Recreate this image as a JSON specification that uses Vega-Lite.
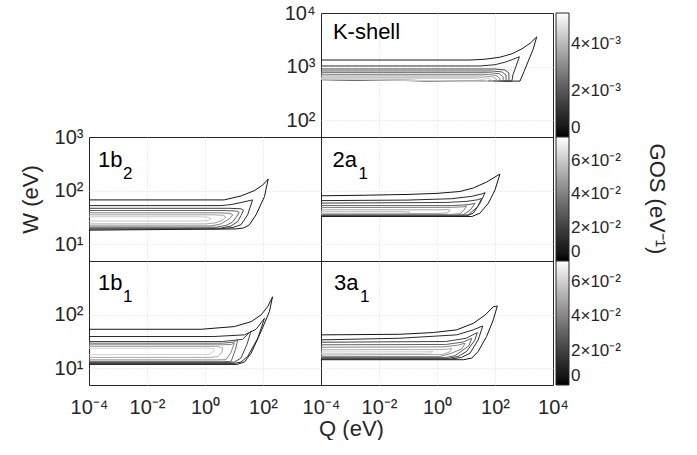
{
"$schema": "https://vega.github.io/schema/vega-lite/v6.json",
"background": "white",
"padding": {"left": 18, "top": 2, "right": 0, "bottom": 0},
"config": {
  "font": "Liberation Sans",
  "view": {"stroke": "#262626", "strokeWidth": 1},
  "axis": {"grid": true, "gridColor": "#d0d0d0", "gridDash": [1, 2], "gridWidth": 0.8, "domain": false, "ticks": false, "labelFlush": false, "labelOverlap": false, "labelFont": "Liberation Sans", "labelFontSize": 20, "labelColor": "#262626", "titleFont": "Liberation Sans", "titleFontSize": 22, "titleFontWeight": "normal", "titleColor": "#262626"},
  "axisX": {"gridOpacity": {"condition": {"test": "datum.value <= -4 || datum.value >= 4", "value": 0}, "value": 1}},
  "legend": {"orient": "right", "offset": 3, "gradientLength": 124, "gradientThickness": 13, "gradientStrokeColor": "#262626", "gradientStrokeWidth": 1, "labelFont": "Liberation Sans", "labelFontSize": 17, "labelColor": "#262626", "labelOffset": 6, "labelOverlap": false, "direction": "vertical"},
  "text": {"font": "Liberation Sans", "color": "#000000"}
},
"datasets": {
  "kshell": [
    {"curve":1,"pt":0,"logQ":-4,"logW":3.124,"GOS":0.0005},{"curve":1,"pt":1,"logQ":1.14,"logW":3.124,"GOS":0.0005},{"curve":1,"pt":2,"logQ":1.66,"logW":3.139,"GOS":0.0005},{"curve":1,"pt":3,"logQ":2.17,"logW":3.176,"GOS":0.0005},{"curve":1,"pt":4,"logQ":2.59,"logW":3.241,"GOS":0.0005},{"curve":1,"pt":5,"logQ":2.93,"logW":3.333,"GOS":0.0005},{"curve":1,"pt":6,"logQ":3.21,"logW":3.435,"GOS":0.0005},{"curve":1,"pt":7,"logQ":3.44,"logW":3.556,"GOS":0.0005},{"curve":1,"pt":8,"logQ":3.31,"logW":3.315,"GOS":0.0005},{"curve":1,"pt":9,"logQ":3.14,"logW":3.093,"GOS":0.0005},{"curve":1,"pt":10,"logQ":3.0,"logW":2.907,"GOS":0.0005},{"curve":1,"pt":11,"logQ":2.86,"logW":2.731,"GOS":0.0005},{"curve":1,"pt":12,"logQ":0.79,"logW":2.731,"GOS":0.0005},{"curve":1,"pt":13,"logQ":-4,"logW":2.769,"GOS":0.0005},
    {"curve":2,"pt":0,"logQ":-4,"logW":3.013,"GOS":0.001},{"curve":2,"pt":1,"logQ":1.48,"logW":3.013,"GOS":0.001},{"curve":2,"pt":2,"logQ":2.0,"logW":3.037,"GOS":0.001},{"curve":2,"pt":3,"logQ":2.34,"logW":3.083,"GOS":0.001},{"curve":2,"pt":4,"logQ":2.59,"logW":3.13,"GOS":0.001},{"curve":2,"pt":5,"logQ":2.84,"logW":3.185,"GOS":0.001},{"curve":2,"pt":6,"logQ":2.72,"logW":3.0,"GOS":0.001},{"curve":2,"pt":7,"logQ":2.62,"logW":2.852,"GOS":0.001},{"curve":2,"pt":8,"logQ":2.58,"logW":2.731,"GOS":0.001},{"curve":2,"pt":9,"logQ":0.79,"logW":2.731,"GOS":0.001},{"curve":2,"pt":10,"logQ":-4,"logW":2.759,"GOS":0.001},
    {"curve":3,"pt":0,"logQ":-4,"logW":2.957,"GOS":0.0015},{"curve":3,"pt":1,"logQ":2.0,"logW":2.957,"GOS":0.0015},{"curve":3,"pt":2,"logQ":2.34,"logW":2.939,"GOS":0.0015},{"curve":3,"pt":3,"logQ":2.48,"logW":2.883,"GOS":0.0015},{"curve":3,"pt":4,"logQ":2.48,"logW":2.731,"GOS":0.0015},{"curve":3,"pt":5,"logQ":0.79,"logW":2.731,"GOS":0.0015},{"curve":3,"pt":6,"logQ":-4,"logW":2.759,"GOS":0.0015},
    {"curve":4,"pt":0,"logQ":-4,"logW":2.92,"GOS":0.002},{"curve":4,"pt":1,"logQ":1.9,"logW":2.92,"GOS":0.002},{"curve":4,"pt":2,"logQ":2.24,"logW":2.902,"GOS":0.002},{"curve":4,"pt":3,"logQ":2.38,"logW":2.846,"GOS":0.002},{"curve":4,"pt":4,"logQ":2.38,"logW":2.731,"GOS":0.002},{"curve":4,"pt":5,"logQ":0.79,"logW":2.731,"GOS":0.002},{"curve":4,"pt":6,"logQ":-4,"logW":2.762,"GOS":0.002},
    {"curve":5,"pt":0,"logQ":-4,"logW":2.889,"GOS":0.0025},{"curve":5,"pt":1,"logQ":1.79,"logW":2.889,"GOS":0.0025},{"curve":5,"pt":2,"logQ":2.14,"logW":2.87,"GOS":0.0025},{"curve":5,"pt":3,"logQ":2.28,"logW":2.815,"GOS":0.0025},{"curve":5,"pt":4,"logQ":2.28,"logW":2.731,"GOS":0.0025},{"curve":5,"pt":5,"logQ":0.79,"logW":2.731,"GOS":0.0025},{"curve":5,"pt":6,"logQ":-4,"logW":2.765,"GOS":0.0025},
    {"curve":6,"pt":0,"logQ":-4,"logW":2.857,"GOS":0.003},{"curve":6,"pt":1,"logQ":1.69,"logW":2.857,"GOS":0.003},{"curve":6,"pt":2,"logQ":2.03,"logW":2.839,"GOS":0.003},{"curve":6,"pt":3,"logQ":2.17,"logW":2.783,"GOS":0.003},{"curve":6,"pt":4,"logQ":2.17,"logW":2.731,"GOS":0.003},{"curve":6,"pt":5,"logQ":0.79,"logW":2.731,"GOS":0.003},{"curve":6,"pt":6,"logQ":-4,"logW":2.767,"GOS":0.003},
    {"curve":7,"pt":0,"logQ":-4,"logW":2.828,"GOS":0.0035},{"curve":7,"pt":1,"logQ":1.59,"logW":2.828,"GOS":0.0035},{"curve":7,"pt":2,"logQ":1.93,"logW":2.809,"GOS":0.0035},{"curve":7,"pt":3,"logQ":2.07,"logW":2.754,"GOS":0.0035},{"curve":7,"pt":4,"logQ":2.07,"logW":2.731,"GOS":0.0035},{"curve":7,"pt":5,"logQ":0.79,"logW":2.731,"GOS":0.0035},{"curve":7,"pt":6,"logQ":-4,"logW":2.77,"GOS":0.0035},
    {"curve":8,"pt":0,"logQ":-4,"logW":2.802,"GOS":0.004},{"curve":8,"pt":1,"logQ":1.45,"logW":2.802,"GOS":0.004},{"curve":8,"pt":2,"logQ":1.79,"logW":2.783,"GOS":0.004},{"curve":8,"pt":3,"logQ":1.93,"logW":2.731,"GOS":0.004},{"curve":8,"pt":4,"logQ":0.79,"logW":2.731,"GOS":0.004},{"curve":8,"pt":5,"logQ":-4,"logW":2.772,"GOS":0.004},
    {"curve":9,"pt":0,"logQ":-4,"logW":2.778,"GOS":0.0045},{"curve":9,"pt":1,"logQ":1.28,"logW":2.778,"GOS":0.0045},{"curve":9,"pt":2,"logQ":1.62,"logW":2.759,"GOS":0.0045},{"curve":9,"pt":3,"logQ":1.76,"logW":2.731,"GOS":0.0045},{"curve":9,"pt":4,"logQ":0.79,"logW":2.731,"GOS":0.0045},{"curve":9,"pt":5,"logQ":-4,"logW":2.774,"GOS":0.0045}
  ],
  "b2": [
    {"curve":1,"pt":0,"logQ":-4,"logW":1.828,"GOS":0.005},{"curve":1,"pt":1,"logQ":0.66,"logW":1.828,"GOS":0.005},{"curve":1,"pt":2,"logQ":1.24,"logW":1.902,"GOS":0.005},{"curve":1,"pt":3,"logQ":1.7,"logW":2.0,"GOS":0.005},{"curve":1,"pt":4,"logQ":1.99,"logW":2.106,"GOS":0.005},{"curve":1,"pt":5,"logQ":2.18,"logW":2.217,"GOS":0.005},{"curve":1,"pt":6,"logQ":2.05,"logW":1.889,"GOS":0.005},{"curve":1,"pt":7,"logQ":1.76,"logW":1.55,"GOS":0.005},{"curve":1,"pt":8,"logQ":1.53,"logW":1.365,"GOS":0.005},{"curve":1,"pt":9,"logQ":1.34,"logW":1.306,"GOS":0.005},{"curve":1,"pt":10,"logQ":1.07,"logW":1.287,"GOS":0.005},{"curve":1,"pt":11,"logQ":-4,"logW":1.265,"GOS":0.005},
    {"curve":2,"pt":0,"logQ":-4,"logW":1.722,"GOS":0.012},{"curve":2,"pt":1,"logQ":0.55,"logW":1.722,"GOS":0.012},{"curve":2,"pt":2,"logQ":0.9,"logW":1.741,"GOS":0.012},{"curve":2,"pt":3,"logQ":1.31,"logW":1.787,"GOS":0.012},{"curve":2,"pt":4,"logQ":1.64,"logW":1.828,"GOS":0.012},{"curve":2,"pt":5,"logQ":1.47,"logW":1.55,"GOS":0.012},{"curve":2,"pt":6,"logQ":1.24,"logW":1.365,"GOS":0.012},{"curve":2,"pt":7,"logQ":0.97,"logW":1.315,"GOS":0.012},{"curve":2,"pt":8,"logQ":0.5,"logW":1.29,"GOS":0.012},{"curve":2,"pt":9,"logQ":-4,"logW":1.283,"GOS":0.012},
    {"curve":3,"pt":0,"logQ":-4,"logW":1.672,"GOS":0.02},{"curve":3,"pt":1,"logQ":0.83,"logW":1.672,"GOS":0.02},{"curve":3,"pt":2,"logQ":1.24,"logW":1.663,"GOS":0.02},{"curve":3,"pt":3,"logQ":1.33,"logW":1.635,"GOS":0.02},{"curve":3,"pt":4,"logQ":1.24,"logW":1.537,"GOS":0.02},{"curve":3,"pt":5,"logQ":1.13,"logW":1.426,"GOS":0.02},{"curve":3,"pt":6,"logQ":0.9,"logW":1.343,"GOS":0.02},{"curve":3,"pt":7,"logQ":0.55,"logW":1.302,"GOS":0.02},{"curve":3,"pt":8,"logQ":-4,"logW":1.302,"GOS":0.02},
    {"curve":4,"pt":0,"logQ":-4,"logW":1.63,"GOS":0.03},{"curve":4,"pt":1,"logQ":0.69,"logW":1.63,"GOS":0.03},{"curve":4,"pt":2,"logQ":1.09,"logW":1.62,"GOS":0.03},{"curve":4,"pt":3,"logQ":1.18,"logW":1.593,"GOS":0.03},{"curve":4,"pt":4,"logQ":1.07,"logW":1.5,"GOS":0.03},{"curve":4,"pt":5,"logQ":0.93,"logW":1.407,"GOS":0.03},{"curve":4,"pt":6,"logQ":0.72,"logW":1.352,"GOS":0.03},{"curve":4,"pt":7,"logQ":0.38,"logW":1.32,"GOS":0.03},{"curve":4,"pt":8,"logQ":-4,"logW":1.32,"GOS":0.03},
    {"curve":5,"pt":0,"logQ":-4,"logW":1.587,"GOS":0.04},{"curve":5,"pt":1,"logQ":0.48,"logW":1.587,"GOS":0.04},{"curve":5,"pt":2,"logQ":0.86,"logW":1.578,"GOS":0.04},{"curve":5,"pt":3,"logQ":0.96,"logW":1.55,"GOS":0.04},{"curve":5,"pt":4,"logQ":0.83,"logW":1.472,"GOS":0.04},{"curve":5,"pt":5,"logQ":0.55,"logW":1.38,"GOS":0.04},{"curve":5,"pt":6,"logQ":0.21,"logW":1.343,"GOS":0.04},{"curve":5,"pt":7,"logQ":-4,"logW":1.343,"GOS":0.04},
    {"curve":6,"pt":0,"logQ":-4,"logW":1.55,"GOS":0.05},{"curve":6,"pt":1,"logQ":0.28,"logW":1.55,"GOS":0.05},{"curve":6,"pt":2,"logQ":0.64,"logW":1.541,"GOS":0.05},{"curve":6,"pt":3,"logQ":0.72,"logW":1.509,"GOS":0.05},{"curve":6,"pt":4,"logQ":0.59,"logW":1.444,"GOS":0.05},{"curve":6,"pt":5,"logQ":0.34,"logW":1.398,"GOS":0.05},{"curve":6,"pt":6,"logQ":0.03,"logW":1.38,"GOS":0.05},{"curve":6,"pt":7,"logQ":-4,"logW":1.38,"GOS":0.05},
    {"curve":7,"pt":0,"logQ":-4,"logW":1.513,"GOS":0.06},{"curve":7,"pt":1,"logQ":-0.14,"logW":1.513,"GOS":0.06},{"curve":7,"pt":2,"logQ":0.1,"logW":1.507,"GOS":0.06},{"curve":7,"pt":3,"logQ":0.21,"logW":1.476,"GOS":0.06},{"curve":7,"pt":4,"logQ":0.1,"logW":1.444,"GOS":0.06},{"curve":7,"pt":5,"logQ":-0.21,"logW":1.435,"GOS":0.06},{"curve":7,"pt":6,"logQ":-4,"logW":1.435,"GOS":0.06}
  ],
  "a2": [
    {"curve":1,"pt":0,"logQ":-4,"logW":1.905,"GOS":0.005},{"curve":1,"pt":1,"logQ":-2.5,"logW":1.915,"GOS":0.005},{"curve":1,"pt":2,"logQ":-1.0,"logW":1.93,"GOS":0.005},{"curve":1,"pt":3,"logQ":0.0,"logW":1.95,"GOS":0.005},{"curve":1,"pt":4,"logQ":0.79,"logW":1.985,"GOS":0.005},{"curve":1,"pt":5,"logQ":1.25,"logW":2.05,"GOS":0.005},{"curve":1,"pt":6,"logQ":1.71,"logW":2.16,"GOS":0.005},{"curve":1,"pt":7,"logQ":2.0,"logW":2.255,"GOS":0.005},{"curve":1,"pt":8,"logQ":2.17,"logW":2.309,"GOS":0.005},{"curve":1,"pt":9,"logQ":2.0,"logW":2.013,"GOS":0.005},{"curve":1,"pt":10,"logQ":1.77,"logW":1.765,"GOS":0.005},{"curve":1,"pt":11,"logQ":1.48,"logW":1.58,"GOS":0.005},{"curve":1,"pt":12,"logQ":1.2,"logW":1.519,"GOS":0.005},{"curve":1,"pt":13,"logQ":-4,"logW":1.519,"GOS":0.005},
    {"curve":2,"pt":0,"logQ":-4,"logW":1.815,"GOS":0.012},{"curve":2,"pt":1,"logQ":-1.0,"logW":1.825,"GOS":0.012},{"curve":2,"pt":2,"logQ":0.5,"logW":1.85,"GOS":0.012},{"curve":2,"pt":3,"logQ":1.2,"logW":1.895,"GOS":0.012},{"curve":2,"pt":4,"logQ":1.55,"logW":1.94,"GOS":0.012},{"curve":2,"pt":5,"logQ":1.66,"logW":1.963,"GOS":0.012},{"curve":2,"pt":6,"logQ":1.48,"logW":1.765,"GOS":0.012},{"curve":2,"pt":7,"logQ":1.25,"logW":1.58,"GOS":0.012},{"curve":2,"pt":8,"logQ":1.02,"logW":1.531,"GOS":0.012},{"curve":2,"pt":9,"logQ":0.6,"logW":1.528,"GOS":0.012},{"curve":2,"pt":10,"logQ":-4,"logW":1.528,"GOS":0.012},
    {"curve":3,"pt":0,"logQ":-4,"logW":1.769,"GOS":0.02},{"curve":3,"pt":1,"logQ":0.3,"logW":1.78,"GOS":0.02},{"curve":3,"pt":2,"logQ":1.0,"logW":1.8,"GOS":0.02},{"curve":3,"pt":3,"logQ":1.4,"logW":1.83,"GOS":0.02},{"curve":3,"pt":4,"logQ":1.54,"logW":1.857,"GOS":0.02},{"curve":3,"pt":5,"logQ":1.4,"logW":1.7,"GOS":0.02},{"curve":3,"pt":6,"logQ":1.08,"logW":1.55,"GOS":0.02},{"curve":3,"pt":7,"logQ":0.7,"logW":1.537,"GOS":0.02},{"curve":3,"pt":8,"logQ":-4,"logW":1.537,"GOS":0.02},
    {"curve":4,"pt":0,"logQ":-4,"logW":1.722,"GOS":0.03},{"curve":4,"pt":1,"logQ":0.5,"logW":1.722,"GOS":0.03},{"curve":4,"pt":2,"logQ":1.1,"logW":1.74,"GOS":0.03},{"curve":4,"pt":3,"logQ":1.31,"logW":1.765,"GOS":0.03},{"curve":4,"pt":4,"logQ":1.15,"logW":1.64,"GOS":0.03},{"curve":4,"pt":5,"logQ":0.9,"logW":1.55,"GOS":0.03},{"curve":4,"pt":6,"logQ":0.5,"logW":1.546,"GOS":0.03},{"curve":4,"pt":7,"logQ":-4,"logW":1.546,"GOS":0.03},
    {"curve":5,"pt":0,"logQ":-4,"logW":1.685,"GOS":0.04},{"curve":5,"pt":1,"logQ":0.5,"logW":1.69,"GOS":0.04},{"curve":5,"pt":2,"logQ":0.9,"logW":1.7,"GOS":0.04},{"curve":5,"pt":3,"logQ":1.02,"logW":1.717,"GOS":0.04},{"curve":5,"pt":4,"logQ":0.92,"logW":1.63,"GOS":0.04},{"curve":5,"pt":5,"logQ":0.79,"logW":1.569,"GOS":0.04},{"curve":5,"pt":6,"logQ":0.4,"logW":1.556,"GOS":0.04},{"curve":5,"pt":7,"logQ":-4,"logW":1.556,"GOS":0.04},
    {"curve":6,"pt":0,"logQ":-4,"logW":1.643,"GOS":0.05},{"curve":6,"pt":1,"logQ":0.1,"logW":1.643,"GOS":0.05},{"curve":6,"pt":2,"logQ":0.4,"logW":1.648,"GOS":0.05},{"curve":6,"pt":3,"logQ":0.45,"logW":1.63,"GOS":0.05},{"curve":6,"pt":4,"logQ":0.35,"logW":1.585,"GOS":0.05},{"curve":6,"pt":5,"logQ":0.0,"logW":1.574,"GOS":0.05},{"curve":6,"pt":6,"logQ":-4,"logW":1.574,"GOS":0.05},
    {"curve":7,"pt":0,"logQ":-4,"logW":1.611,"GOS":0.06},{"curve":7,"pt":1,"logQ":-1.1,"logW":1.611,"GOS":0.06},{"curve":7,"pt":2,"logQ":-0.93,"logW":1.6,"GOS":0.06},{"curve":7,"pt":3,"logQ":-1.05,"logW":1.586,"GOS":0.06},{"curve":7,"pt":4,"logQ":-1.3,"logW":1.583,"GOS":0.06},{"curve":7,"pt":5,"logQ":-4,"logW":1.583,"GOS":0.06}
  ],
  "b1": [
    {"curve":1,"pt":0,"logQ":-4,"logW":1.728,"GOS":0.005},{"curve":1,"pt":1,"logQ":-0.14,"logW":1.728,"GOS":0.005},{"curve":1,"pt":2,"logQ":1.01,"logW":1.778,"GOS":0.005},{"curve":1,"pt":3,"logQ":1.59,"logW":1.87,"GOS":0.005},{"curve":1,"pt":4,"logQ":1.93,"logW":1.994,"GOS":0.005},{"curve":1,"pt":5,"logQ":2.16,"logW":2.148,"GOS":0.005},{"curve":1,"pt":6,"logQ":2.33,"logW":2.333,"GOS":0.005},{"curve":1,"pt":7,"logQ":2.22,"logW":2.056,"GOS":0.005},{"curve":1,"pt":8,"logQ":1.93,"logW":1.685,"GOS":0.005},{"curve":1,"pt":9,"logQ":1.59,"logW":1.283,"GOS":0.005},{"curve":1,"pt":10,"logQ":1.36,"logW":1.117,"GOS":0.005},{"curve":1,"pt":11,"logQ":1.1,"logW":1.074,"GOS":0.005},{"curve":1,"pt":12,"logQ":-4,"logW":1.074,"GOS":0.005},
    {"curve":2,"pt":0,"logQ":-4,"logW":1.593,"GOS":0.012},{"curve":2,"pt":1,"logQ":0.3,"logW":1.593,"GOS":0.012},{"curve":2,"pt":2,"logQ":1.36,"logW":1.624,"GOS":0.012},{"curve":2,"pt":3,"logQ":1.76,"logW":1.728,"GOS":0.012},{"curve":2,"pt":4,"logQ":2.05,"logW":1.931,"GOS":0.012},{"curve":2,"pt":5,"logQ":1.82,"logW":1.561,"GOS":0.012},{"curve":2,"pt":6,"logQ":1.47,"logW":1.222,"GOS":0.012},{"curve":2,"pt":7,"logQ":1.24,"logW":1.117,"GOS":0.012},{"curve":2,"pt":8,"logQ":1.0,"logW":1.093,"GOS":0.012},{"curve":2,"pt":9,"logQ":-4,"logW":1.093,"GOS":0.012},
    {"curve":3,"pt":0,"logQ":-4,"logW":1.5,"GOS":0.02},{"curve":3,"pt":1,"logQ":0.6,"logW":1.5,"GOS":0.02},{"curve":3,"pt":2,"logQ":1.3,"logW":1.54,"GOS":0.02},{"curve":3,"pt":3,"logQ":1.59,"logW":1.698,"GOS":0.02},{"curve":3,"pt":4,"logQ":1.45,"logW":1.45,"GOS":0.02},{"curve":3,"pt":5,"logQ":1.24,"logW":1.191,"GOS":0.02},{"curve":3,"pt":6,"logQ":1.01,"logW":1.117,"GOS":0.02},{"curve":3,"pt":7,"logQ":0.8,"logW":1.111,"GOS":0.02},{"curve":3,"pt":8,"logQ":-4,"logW":1.111,"GOS":0.02},
    {"curve":4,"pt":0,"logQ":-4,"logW":1.469,"GOS":0.03},{"curve":4,"pt":1,"logQ":0.6,"logW":1.469,"GOS":0.03},{"curve":4,"pt":2,"logQ":1.0,"logW":1.49,"GOS":0.03},{"curve":4,"pt":3,"logQ":1.13,"logW":1.543,"GOS":0.03},{"curve":4,"pt":4,"logQ":1.05,"logW":1.35,"GOS":0.03},{"curve":4,"pt":5,"logQ":0.9,"logW":1.13,"GOS":0.03},{"curve":4,"pt":6,"logQ":0.6,"logW":1.125,"GOS":0.03},{"curve":4,"pt":7,"logQ":-4,"logW":1.125,"GOS":0.03},
    {"curve":5,"pt":0,"logQ":-4,"logW":1.439,"GOS":0.04},{"curve":5,"pt":1,"logQ":0.6,"logW":1.439,"GOS":0.04},{"curve":5,"pt":2,"logQ":0.9,"logW":1.445,"GOS":0.04},{"curve":5,"pt":3,"logQ":1.01,"logW":1.469,"GOS":0.04},{"curve":5,"pt":4,"logQ":0.9,"logW":1.3,"GOS":0.04},{"curve":5,"pt":5,"logQ":0.72,"logW":1.161,"GOS":0.04},{"curve":5,"pt":6,"logQ":0.4,"logW":1.157,"GOS":0.04},{"curve":5,"pt":7,"logQ":-4,"logW":1.157,"GOS":0.04},
    {"curve":6,"pt":0,"logQ":-4,"logW":1.407,"GOS":0.05},{"curve":6,"pt":1,"logQ":0.45,"logW":1.407,"GOS":0.05},{"curve":6,"pt":2,"logQ":0.61,"logW":1.38,"GOS":0.05},{"curve":6,"pt":3,"logQ":0.58,"logW":1.3,"GOS":0.05},{"curve":6,"pt":4,"logQ":0.45,"logW":1.22,"GOS":0.05},{"curve":6,"pt":5,"logQ":0.2,"logW":1.204,"GOS":0.05},{"curve":6,"pt":6,"logQ":-4,"logW":1.204,"GOS":0.05},
    {"curve":7,"pt":0,"logQ":-4,"logW":1.376,"GOS":0.06},{"curve":7,"pt":1,"logQ":0.1,"logW":1.376,"GOS":0.06},{"curve":7,"pt":2,"logQ":0.3,"logW":1.37,"GOS":0.06},{"curve":7,"pt":3,"logQ":0.32,"logW":1.33,"GOS":0.06},{"curve":7,"pt":4,"logQ":0.15,"logW":1.26,"GOS":0.06},{"curve":7,"pt":5,"logQ":-4,"logW":1.254,"GOS":0.06}
  ],
  "a3": [
    {"curve":1,"pt":0,"logQ":-4,"logW":1.624,"GOS":0.005},{"curve":1,"pt":1,"logQ":-1.28,"logW":1.635,"GOS":0.005},{"curve":1,"pt":2,"logQ":-0.13,"logW":1.667,"GOS":0.005},{"curve":1,"pt":3,"logQ":0.68,"logW":1.717,"GOS":0.005},{"curve":1,"pt":4,"logQ":1.25,"logW":1.839,"GOS":0.005},{"curve":1,"pt":5,"logQ":1.66,"logW":1.994,"GOS":0.005},{"curve":1,"pt":6,"logQ":1.94,"logW":2.148,"GOS":0.005},{"curve":1,"pt":7,"logQ":2.08,"logW":2.161,"GOS":0.005},{"curve":1,"pt":8,"logQ":1.94,"logW":1.902,"GOS":0.005},{"curve":1,"pt":9,"logQ":1.71,"logW":1.593,"GOS":0.005},{"curve":1,"pt":10,"logQ":1.42,"logW":1.315,"GOS":0.005},{"curve":1,"pt":11,"logQ":1.2,"logW":1.191,"GOS":0.005},{"curve":1,"pt":12,"logQ":0.91,"logW":1.161,"GOS":0.005},{"curve":1,"pt":13,"logQ":-4,"logW":1.161,"GOS":0.005},
    {"curve":2,"pt":0,"logQ":-4,"logW":1.531,"GOS":0.012},{"curve":2,"pt":1,"logQ":-1.28,"logW":1.561,"GOS":0.012},{"curve":2,"pt":2,"logQ":0.68,"logW":1.624,"GOS":0.012},{"curve":2,"pt":3,"logQ":1.25,"logW":1.717,"GOS":0.012},{"curve":2,"pt":4,"logQ":1.58,"logW":1.791,"GOS":0.012},{"curve":2,"pt":5,"logQ":1.42,"logW":1.531,"GOS":0.012},{"curve":2,"pt":6,"logQ":1.14,"logW":1.283,"GOS":0.012},{"curve":2,"pt":7,"logQ":0.85,"logW":1.204,"GOS":0.012},{"curve":2,"pt":8,"logQ":0.5,"logW":1.176,"GOS":0.012},{"curve":2,"pt":9,"logQ":-4,"logW":1.176,"GOS":0.012},
    {"curve":3,"pt":0,"logQ":-4,"logW":1.487,"GOS":0.02},{"curve":3,"pt":1,"logQ":0.3,"logW":1.5,"GOS":0.02},{"curve":3,"pt":2,"logQ":1.0,"logW":1.56,"GOS":0.02},{"curve":3,"pt":3,"logQ":1.39,"logW":1.667,"GOS":0.02},{"curve":3,"pt":4,"logQ":1.3,"logW":1.52,"GOS":0.02},{"curve":3,"pt":5,"logQ":1.02,"logW":1.315,"GOS":0.02},{"curve":3,"pt":6,"logQ":0.73,"logW":1.222,"GOS":0.02},{"curve":3,"pt":7,"logQ":0.4,"logW":1.189,"GOS":0.02},{"curve":3,"pt":8,"logQ":-4,"logW":1.189,"GOS":0.02},
    {"curve":4,"pt":0,"logQ":-4,"logW":1.439,"GOS":0.03},{"curve":4,"pt":1,"logQ":0.3,"logW":1.445,"GOS":0.03},{"curve":4,"pt":2,"logQ":0.9,"logW":1.49,"GOS":0.03},{"curve":4,"pt":3,"logQ":1.2,"logW":1.561,"GOS":0.03},{"curve":4,"pt":4,"logQ":1.1,"logW":1.42,"GOS":0.03},{"curve":4,"pt":5,"logQ":0.62,"logW":1.235,"GOS":0.03},{"curve":4,"pt":6,"logQ":0.3,"logW":1.204,"GOS":0.03},{"curve":4,"pt":7,"logQ":-4,"logW":1.204,"GOS":0.03},
    {"curve":5,"pt":0,"logQ":-4,"logW":1.394,"GOS":0.04},{"curve":5,"pt":1,"logQ":0.2,"logW":1.4,"GOS":0.04},{"curve":5,"pt":2,"logQ":0.7,"logW":1.43,"GOS":0.04},{"curve":5,"pt":3,"logQ":0.97,"logW":1.469,"GOS":0.04},{"curve":5,"pt":4,"logQ":0.85,"logW":1.36,"GOS":0.04},{"curve":5,"pt":5,"logQ":0.45,"logW":1.272,"GOS":0.04},{"curve":5,"pt":6,"logQ":0.1,"logW":1.222,"GOS":0.04},{"curve":5,"pt":7,"logQ":-4,"logW":1.222,"GOS":0.04},
    {"curve":6,"pt":0,"logQ":-4,"logW":1.346,"GOS":0.05},{"curve":6,"pt":1,"logQ":0.1,"logW":1.35,"GOS":0.05},{"curve":6,"pt":2,"logQ":0.4,"logW":1.36,"GOS":0.05},{"curve":6,"pt":3,"logQ":0.51,"logW":1.376,"GOS":0.05},{"curve":6,"pt":4,"logQ":0.45,"logW":1.31,"GOS":0.05},{"curve":6,"pt":5,"logQ":0.2,"logW":1.26,"GOS":0.05},{"curve":6,"pt":6,"logQ":-4,"logW":1.25,"GOS":0.05},
    {"curve":7,"pt":0,"logQ":-4,"logW":1.306,"GOS":0.06},{"curve":7,"pt":1,"logQ":-0.4,"logW":1.31,"GOS":0.06},{"curve":7,"pt":2,"logQ":-0.13,"logW":1.315,"GOS":0.06},{"curve":7,"pt":3,"logQ":-0.25,"logW":1.285,"GOS":0.06},{"curve":7,"pt":4,"logQ":-0.6,"logW":1.278,"GOS":0.06},{"curve":7,"pt":5,"logQ":-4,"logW":1.278,"GOS":0.06}
  ]
},
"columns": 2,
"spacing": 0,
"bounds": "flush",
"resolve": {"scale": {"color": "independent", "x": "independent", "y": "independent"}, "legend": {"color": "independent"}},
"concat": [
  {"width": 232, "height": 124, "data": {"values": []}, "mark": "point", "encoding": {}, "view": {"stroke": null}},
  {"width": 232, "height": 124,
   "layer": [
    {"data": {"name": "kshell"}, "mark": {"type": "line", "strokeWidth": 1, "clip": true},
     "encoding": {
      "x": {"field": "logQ", "type": "quantitative", "scale": {"domain": [-4, 4], "nice": false, "zero": false}, "axis": {"values": [-4, -2, 0, 2, 4], "labels": false, "title": null}},
      "y": {"field": "logW", "type": "quantitative", "scale": {"domain": [1.69, 4], "nice": false, "zero": false}, "axis": {"values": [2, 3, 4], "title": null, "labelPadding": 6, "gridOpacity": {"condition": {"test": "datum.value >= 4", "value": 0}, "value": 1}, "labelExpr": "datum.value == 1 ? '10¹' : datum.value == 2 ? '10²' : datum.value == 3 ? '10³' : '10⁴'"}},
      "detail": {"field": "curve"},
      "order": {"field": "pt", "type": "quantitative"},
      "color": {"field": "GOS", "type": "quantitative", "scale": {"domain": [0, 0.00535], "range": ["#000000", "#ffffff"]},
        "legend": {"values": [0, 0.002, 0.004], "title": null, "labelExpr": "datum.value == 0 ? '0' : round(datum.value * 1000) + '×10⁻³'"}}
     }},
    {"data": {"values": [{"label": "K-shell"}]}, "mark": {"type": "text", "align": "left", "baseline": "alphabetic", "fontSize": 22},
     "encoding": {"x": {"datum": -3.59}, "y": {"datum": 3.52}, "text": {"field": "label"}}}
   ]},
  {"width": 232, "height": 124,
   "layer": [
    {"data": {"name": "b2"}, "mark": {"type": "line", "strokeWidth": 1, "clip": true},
     "encoding": {
      "x": {"field": "logQ", "type": "quantitative", "scale": {"domain": [-4, 4], "nice": false, "zero": false}, "axis": {"values": [-4, -2, 0, 2, 4], "labels": false, "title": null}},
      "y": {"field": "logW", "type": "quantitative", "scale": {"domain": [0.69, 3], "nice": false, "zero": false}, "axis": {"values": [1, 2, 3], "title": "W (eV)", "titlePadding": 12, "labelPadding": 6, "gridOpacity": {"condition": {"test": "datum.value >= 3", "value": 0}, "value": 1}, "labelExpr": "datum.value == 1 ? '10¹' : datum.value == 2 ? '10²' : datum.value == 3 ? '10³' : '10⁴'"}},
      "detail": {"field": "curve"},
      "order": {"field": "pt", "type": "quantitative"},
      "color": {"field": "GOS", "type": "quantitative", "scale": {"domain": [0, 0.0745], "range": ["#000000", "#ffffff"]}, "legend": null}
     }},
    {"data": {"values": [{"label": "1b"}]}, "mark": {"type": "text", "align": "left", "baseline": "alphabetic", "fontSize": 22},
     "encoding": {"x": {"datum": -3.69}, "y": {"datum": 2.444}, "text": {"field": "label"}}},
    {"data": {"values": [{"label": "2"}]}, "mark": {"type": "text", "align": "left", "baseline": "alphabetic", "fontSize": 17, "dx": 25, "dy": 12},
     "encoding": {"x": {"datum": -3.69}, "y": {"datum": 2.444}, "text": {"field": "label"}}}
   ]},
  {"width": 232, "height": 124,
   "layer": [
    {"data": {"name": "a2"}, "mark": {"type": "line", "strokeWidth": 1, "clip": true},
     "encoding": {
      "x": {"field": "logQ", "type": "quantitative", "scale": {"domain": [-4, 4], "nice": false, "zero": false}, "axis": {"values": [-4, -2, 0, 2, 4], "labels": false, "title": null}},
      "y": {"field": "logW", "type": "quantitative", "scale": {"domain": [0.69, 3], "nice": false, "zero": false}, "axis": {"values": [1, 2, 3], "labels": false, "title": null, "gridOpacity": {"condition": {"test": "datum.value >= 3", "value": 0}, "value": 1}}},
      "detail": {"field": "curve"},
      "order": {"field": "pt", "type": "quantitative"},
      "color": {"field": "GOS", "type": "quantitative", "scale": {"domain": [0, 0.0745], "range": ["#000000", "#ffffff"]},
        "legend": {"values": [0, 0.02, 0.04, 0.06], "title": "GOS (eV⁻¹)", "titleOrient": "right", "titleAngle": 270, "titleAnchor": "middle", "titleFontSize": 22, "titleFontWeight": "normal", "titleColor": "#262626", "titlePadding": 24, "labelExpr": "datum.value == 0 ? '0' : round(datum.value * 100) + '×10⁻²'"}}
     }},
    {"data": {"values": [{"label": "2a"}]}, "mark": {"type": "text", "align": "left", "baseline": "alphabetic", "fontSize": 22},
     "encoding": {"x": {"datum": -3.6}, "y": {"datum": 2.444}, "text": {"field": "label"}}},
    {"data": {"values": [{"label": "1"}]}, "mark": {"type": "text", "align": "left", "baseline": "alphabetic", "fontSize": 17, "dx": 26, "dy": 12},
     "encoding": {"x": {"datum": -3.6}, "y": {"datum": 2.444}, "text": {"field": "label"}}}
   ]},
  {"width": 232, "height": 124,
   "layer": [
    {"data": {"name": "b1"}, "mark": {"type": "line", "strokeWidth": 1, "clip": true},
     "encoding": {
      "x": {"field": "logQ", "type": "quantitative", "scale": {"domain": [-4, 4], "nice": false, "zero": false}, "axis": {"values": [-4, -2, 0, 2], "title": null, "labelPadding": 12, "labelExpr": "datum.value == -4 ? '10⁻⁴' : datum.value == -2 ? '10⁻²' : datum.value == 0 ? '10⁰' : datum.value == 2 ? '10²' : '10⁴'"}},
      "y": {"field": "logW", "type": "quantitative", "scale": {"domain": [0.69, 3], "nice": false, "zero": false}, "axis": {"values": [1, 2], "title": null, "labelPadding": 6, "labelExpr": "datum.value == 1 ? '10¹' : datum.value == 2 ? '10²' : datum.value == 3 ? '10³' : '10⁴'"}},
      "detail": {"field": "curve"},
      "order": {"field": "pt", "type": "quantitative"},
      "color": {"field": "GOS", "type": "quantitative", "scale": {"domain": [0, 0.072], "range": ["#000000", "#ffffff"]}, "legend": null}
     }},
    {"data": {"values": [{"label": "1b"}]}, "mark": {"type": "text", "align": "left", "baseline": "alphabetic", "fontSize": 22},
     "encoding": {"x": {"datum": -3.69}, "y": {"datum": 2.457}, "text": {"field": "label"}}},
    {"data": {"values": [{"label": "1"}]}, "mark": {"type": "text", "align": "left", "baseline": "alphabetic", "fontSize": 17, "dx": 25, "dy": 12},
     "encoding": {"x": {"datum": -3.69}, "y": {"datum": 2.457}, "text": {"field": "label"}}}
   ]},
  {"width": 232, "height": 124,
   "layer": [
    {"data": {"name": "a3"}, "mark": {"type": "line", "strokeWidth": 1, "clip": true},
     "encoding": {
      "x": {"field": "logQ", "type": "quantitative", "scale": {"domain": [-4, 4], "nice": false, "zero": false}, "axis": {"values": [-4, -2, 0, 2, 4], "title": "Q (eV)", "titleX": 30, "titleAlign": "center", "titlePadding": 1, "labelPadding": 12, "labelExpr": "datum.value == -4 ? '10⁻⁴' : datum.value == -2 ? '10⁻²' : datum.value == 0 ? '10⁰' : datum.value == 2 ? '10²' : '10⁴'"}},
      "y": {"field": "logW", "type": "quantitative", "scale": {"domain": [0.69, 3], "nice": false, "zero": false}, "axis": {"values": [1, 2, 3], "labels": false, "title": null, "gridOpacity": {"condition": {"test": "datum.value >= 3", "value": 0}, "value": 1}}},
      "detail": {"field": "curve"},
      "order": {"field": "pt", "type": "quantitative"},
      "color": {"field": "GOS", "type": "quantitative", "scale": {"domain": [0, 0.072], "range": ["#000000", "#ffffff"]},
        "legend": {"values": [0, 0.02, 0.04, 0.06], "title": null, "labelExpr": "datum.value == 0 ? '0' : round(datum.value * 100) + '×10⁻²'"}}
     }},
    {"data": {"values": [{"label": "3a"}]}, "mark": {"type": "text", "align": "left", "baseline": "alphabetic", "fontSize": 22},
     "encoding": {"x": {"datum": -3.55}, "y": {"datum": 2.457}, "text": {"field": "label"}}},
    {"data": {"values": [{"label": "1"}]}, "mark": {"type": "text", "align": "left", "baseline": "alphabetic", "fontSize": 17, "dx": 26, "dy": 12},
     "encoding": {"x": {"datum": -3.55}, "y": {"datum": 2.457}, "text": {"field": "label"}}}
   ]}
]
}
